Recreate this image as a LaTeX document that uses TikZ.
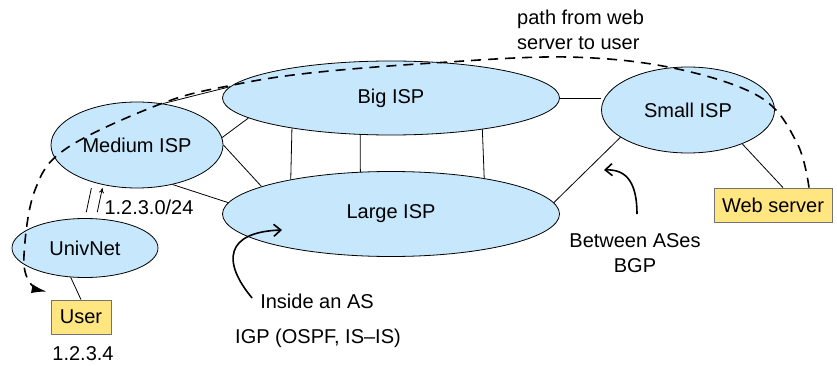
\documentclass[tikz,border=0pt]{standalone}
\usepackage{fontspec}
\setmainfont{Liberation Sans}
\usetikzlibrary{arrows.meta, shapes.geometric}
\definecolor{ispblue}{RGB}{198,231,252}
\definecolor{hostyellow}{RGB}{255,230,128}

\begin{document}
\begin{tikzpicture}[x=1pt, y=-1pt, font=\fontsize{20}{25}\selectfont, inner sep=3pt,
  isp/.style={ellipse, draw, fill=ispblue, line width=0.8pt, inner sep=0pt},
  host/.style={rectangle, draw=black!55, fill=hostyellow, line width=0.8pt, minimum height=34pt, inner sep=0pt},
  link/.style={line width=0.8pt},
  route/.style={line width=1.6pt, dash pattern=on 10pt off 7pt},
  note/.style={line width=1.6pt, -{Straight Barb[length=7pt, width=12pt]}}]
\useasboundingbox (0,0) rectangle (837,366);

\node (big)    [isp, minimum width=337pt, minimum height=74pt] at (391,98)  {Big ISP};
\node (large)  [isp, minimum width=337pt, minimum height=85pt] at (391,214) {Large ISP};
\node (medium) [isp, minimum width=172pt, minimum height=86pt] at (137,145) {Medium ISP};
\node (univ)   [isp, minimum width=146pt, minimum height=59pt] at (85,248)  {UnivNet};
\node (small)  [isp, minimum width=173pt, minimum height=86pt] at (688,110) {Small ISP};
\node (web)    [host, minimum width=118pt] at (773,205) {Web server};
\node (user)   [host, minimum width=60pt]  at (81,317)  {User};

\node (addr)    at (83,354)  {1.2.3.4};
\node (prefix)  at (149,207) {1.2.3.0/24};
\node (pathtxt) [anchor=west, align=left] at (514,30) {path from web\\server to user};
\node (bgptxt)  [align=center] at (635,253) {Between ASes\\BGP};
\node (inside)  at (317,301) {Inside an AS};
\node (igp)     at (318,338) {IGP (OSPF, IS--IS)};

% links between the networks
\draw[link] (big.east) -- (big.east -| small.west);
\draw[link] (medium.5) -- (big.188);
\draw[link] (medium.58) -- (big.176);
\draw[link] (medium.east) -- (large.168);
\draw[link] (medium.312) -- (large.176);
\draw[link] (big.197) -- (large.161);
\draw[link] (big.230) -- (large.126);
\draw[link] (big.341) -- (large.21);
\draw[link] (large.4) -- (small.202);
\draw[link] (small.328) -- ([xshift=10pt]web.north);
\draw[link] (univ.244) -- (user.north);
\draw[link, shorten <=6pt, shorten >=6pt] (univ.north) -- (medium.220);
\draw[link, -{To[length=5pt, width=5pt]}, shorten <=6pt, shorten >=6pt] ([xshift=11pt]univ.north) -- ([xshift=11pt]medium.220);

% path of the packets
\coordinate (pathstart) at ([xshift=36pt]web.north);
\coordinate (pathend) at ([xshift=-4pt, yshift=8pt]user.north west);
\draw[route, -{Latex[length=15pt, width=9pt]}] plot[smooth, tension=0.6] coordinates {(pathstart) (797,143) (760,97) (673,68) (567,57) (433,63) (310,73) (233,85) (163,103) (67,148) (35,190) (24,255) (30,283) (pathend)};

% routing notes
\coordinate (igptip) at (282,230);
\draw[note] ([xshift=-5pt, yshift=3pt]inside.west) .. controls (222,262) and (225,232) .. (igptip);
\coordinate (bgpfrom) at (637,214);
\coordinate (bgptip) at (604,170);
\draw[note] (bgpfrom) .. controls (637,185) and (628,169) .. (bgptip);
\end{tikzpicture}
\end{document}
